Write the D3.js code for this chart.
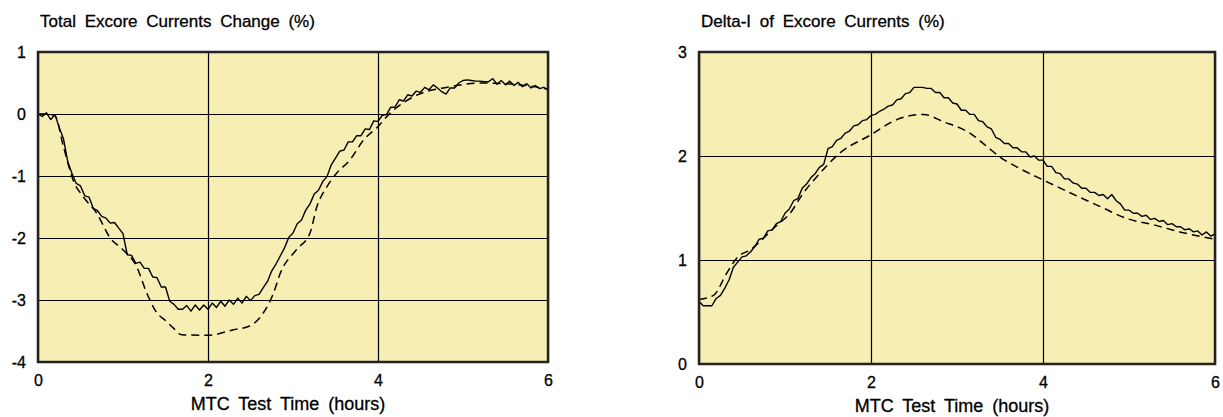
<!DOCTYPE html>
<html>
<head>
<meta charset="utf-8">
<script src="https://cdn.jsdelivr.net/npm/d3@7"></script>
<style>
  html, body { margin: 0; padding: 0; background: #fff; }
  svg { display: block; }
  text { font-family: "Liberation Sans", Arial, sans-serif; fill: #000; stroke: #000; stroke-width: 0.3px; }
</style>
</head>
<body>
<svg id="chart" width="1223" height="417"></svg>
<script>
// Sample spacing of the measured traces (hours)
const sampleStep = 0.05;

// Total excore current change (%) – measured, one value every 0.05 h from 0 to 6 h
const totalMeasured = [
  0.00, -0.04, 0.02, -0.09, -0.01, -0.22, -0.40, -0.77, -0.96, -1.12,
  -1.16, -1.32, -1.34, -1.52, -1.56, -1.65, -1.68, -1.76, -1.75, -1.84,
  -1.93, -2.27, -2.28, -2.41, -2.39, -2.49, -2.49, -2.63, -2.64, -2.79,
  -2.79, -3.02, -3.07, -3.15, -3.15, -3.09, -3.18, -3.08, -3.16, -3.08,
  -3.15, -3.05, -3.12, -3.02, -3.10, -3.00, -3.07, -2.97, -3.05, -2.94,
  -3.01, -2.93, -2.91, -2.80, -2.70, -2.53, -2.42, -2.29, -2.16, -1.99,
  -1.92, -1.77, -1.71, -1.55, -1.45, -1.29, -1.23, -1.09, -1.01, -0.82,
  -0.71, -0.60, -0.58, -0.45, -0.45, -0.35, -0.35, -0.24, -0.25, -0.11,
  -0.12, -0.02, -0.01, 0.11, 0.11, 0.23, 0.21, 0.31, 0.29, 0.37,
  0.35, 0.43, 0.39, 0.47, 0.42, 0.36, 0.32, 0.42, 0.42, 0.50,
  0.54, 0.55, 0.54, 0.53, 0.53, 0.52, 0.52, 0.57, 0.48, 0.54,
  0.47, 0.53, 0.46, 0.51, 0.44, 0.49, 0.42, 0.46, 0.41, 0.43,
  0.39
];

// Total excore current change (%) – predicted
const totalPredicted = [
  [0, 0], [0.1, 0], [0.2, -0.03], [0.3, -0.53], [0.42, -1.09], [0.53, -1.33],
  [0.69, -1.6], [0.85, -2.0], [1.0, -2.19], [1.16, -2.46], [1.28, -2.89],
  [1.4, -3.21], [1.5, -3.33], [1.59, -3.45], [1.69, -3.56], [2.0, -3.57],
  [2.3, -3.48], [2.49, -3.42], [2.65, -3.21], [2.77, -2.89], [2.85, -2.57],
  [3.04, -2.19], [3.2, -1.92], [3.28, -1.5], [3.4, -1.17], [3.51, -0.96],
  [3.67, -0.74], [3.83, -0.42], [4.0, -0.2], [4.14, 0.01], [4.42, 0.28],
  [4.85, 0.44], [5.2, 0.5], [5.6, 0.48], [6.0, 0.4]
];

// Delta-I of excore currents (%) – measured, one value every 0.05 h from 0 to 6 h
const deltaMeasured = [
  0.60, 0.56, 0.56, 0.56, 0.63, 0.66, 0.73, 0.81, 0.93, 0.98,
  1.03, 1.04, 1.08, 1.13, 1.20, 1.21, 1.28, 1.29, 1.35, 1.37,
  1.45, 1.49, 1.57, 1.59, 1.69, 1.73, 1.79, 1.83, 1.89, 1.92,
  2.07, 2.09, 2.15, 2.17, 2.22, 2.24, 2.29, 2.30, 2.34, 2.35,
  2.39, 2.40, 2.43, 2.45, 2.48, 2.49, 2.54, 2.55, 2.60, 2.61,
  2.66, 2.66, 2.66, 2.65, 2.65, 2.61, 2.61, 2.56, 2.56, 2.51,
  2.50, 2.44, 2.44, 2.40, 2.40, 2.34, 2.33, 2.28, 2.26, 2.18,
  2.16, 2.12, 2.12, 2.08, 2.08, 2.04, 2.04, 1.99, 2.00, 1.96,
  1.96, 1.90, 1.90, 1.84, 1.83, 1.78, 1.78, 1.74, 1.73, 1.69,
  1.69, 1.65, 1.65, 1.62, 1.63, 1.59, 1.63, 1.57, 1.54, 1.48,
  1.48, 1.45, 1.45, 1.42, 1.43, 1.39, 1.40, 1.37, 1.38, 1.34,
  1.35, 1.32, 1.32, 1.29, 1.30, 1.27, 1.28, 1.24, 1.27, 1.23,
  1.25
];

// Delta-I of excore currents (%) – predicted
const deltaPredicted = [
  [0, 0.62], [0.17, 0.66], [0.32, 0.87], [0.44, 1.02], [0.6, 1.1], [0.9, 1.33],
  [1.06, 1.45], [1.21, 1.64], [1.37, 1.8], [1.64, 2.03], [1.99, 2.2],
  [2.3, 2.35], [2.61, 2.4], [2.84, 2.33], [3.15, 2.22], [3.35, 2.09],
  [3.5, 1.99], [3.73, 1.88], [4.0, 1.77], [4.28, 1.66], [4.7, 1.5],
  [4.97, 1.4], [5.28, 1.34], [5.59, 1.27], [6.0, 1.2]
];

// Axis ticks
const timeTicks = [0, 2, 4, 6];
const totalTicks = [-4, -3, -2, -1, 0, 1];
const deltaTicks = [0, 1, 2, 3];

const panelTitles = ["Total Excore Currents Change (%)", "Delta-I of Excore Currents (%)"];
const xAxisTitle = "MTC Test Time (hours)";

const svg = d3.select("#chart");
const plain = d => String(d);

function panel(cfg) {
  const g = svg.append("g");
  const x = d3.scaleLinear().domain([0, 6]).range([cfg.left, cfg.right]);
  const y = d3.scaleLinear().domain(cfg.yDomain).range([cfg.bottom, cfg.top]);

  // plot background
  g.append("rect")
    .attr("x", cfg.left).attr("y", cfg.top)
    .attr("width", cfg.right - cfg.left).attr("height", cfg.bottom - cfg.top)
    .attr("fill", "#F7EEB4");

  // grid lines
  g.append("g")
    .attr("transform", `translate(0,${cfg.bottom})`)
    .call(d3.axisBottom(x).tickValues(timeTicks).tickSize(-(cfg.bottom - cfg.top)).tickFormat(""))
    .call(a => a.select(".domain").remove())
    .call(a => a.selectAll("line").attr("stroke", "#000").attr("stroke-width", 1.2));
  g.append("g")
    .attr("transform", `translate(${cfg.left},0)`)
    .call(d3.axisLeft(y).tickValues(cfg.yTicks).tickSize(-(cfg.right - cfg.left)).tickFormat(""))
    .call(a => a.select(".domain").remove())
    .call(a => a.selectAll("line").attr("stroke", "#000").attr("stroke-width", 1.2));

  // predicted (dashed) and measured (solid) traces
  g.append("path")
    .datum(cfg.predicted)
    .attr("d", d3.line().x(d => x(d[0])).y(d => y(d[1])).curve(d3.curveMonotoneX))
    .attr("fill", "none").attr("stroke", "#000")
    .attr("stroke-width", 1.5).attr("stroke-dasharray", "8,5");
  const measured = cfg.measured.map((v, i) => [i * sampleStep, v]);
  g.append("path")
    .datum(measured)
    .attr("d", d3.line().x(d => x(d[0])).y(d => y(d[1])))
    .attr("fill", "none").attr("stroke", "#000")
    .attr("stroke-width", 1.4).attr("stroke-linejoin", "round");

  // frame
  g.append("rect")
    .attr("x", cfg.left).attr("y", cfg.top)
    .attr("width", cfg.right - cfg.left).attr("height", cfg.bottom - cfg.top)
    .attr("fill", "none").attr("stroke", "#222").attr("stroke-width", 2.5);

  // tick labels
  const xl = g.append("g")
    .attr("transform", `translate(0,${cfg.bottom})`)
    .call(d3.axisBottom(x).tickValues(timeTicks).tickSize(0).tickPadding(13).tickFormat(plain));
  xl.select(".domain").remove();
  xl.selectAll("text").attr("font-size", 16).attr("font-family", null).attr("fill", "#000");

  const yl = g.append("g")
    .attr("transform", `translate(${cfg.left},0)`)
    .call(d3.axisLeft(y).tickValues(cfg.yTicks).tickSize(0).tickPadding(12).tickFormat(plain));
  yl.select(".domain").remove();
  yl.selectAll("text").attr("font-size", 16).attr("font-family", null).attr("fill", "#000");

  // titles
  g.append("text")
    .attr("x", cfg.titleX).attr("y", 27)
    .attr("font-size", 17).attr("word-spacing", 4)
    .text(cfg.title);
  g.append("text")
    .attr("x", (cfg.left + cfg.right) / 2 - 5).attr("y", cfg.bottom + 48)
    .attr("text-anchor", "middle")
    .attr("font-size", 18).attr("word-spacing", 4)
    .text(xAxisTitle);
}

panel({
  left: 38, right: 548, top: 52, bottom: 362,
  yDomain: [-4, 1], yTicks: totalTicks,
  measured: totalMeasured, predicted: totalPredicted,
  title: panelTitles[0], titleX: 40
});
panel({
  left: 699, right: 1215, top: 52, bottom: 364,
  yDomain: [0, 3], yTicks: deltaTicks,
  measured: deltaMeasured, predicted: deltaPredicted,
  title: panelTitles[1], titleX: 701
});
</script>
</body>
</html>
